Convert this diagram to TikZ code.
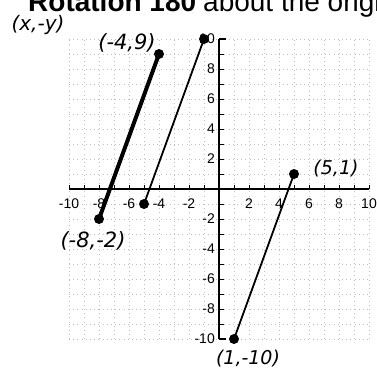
\documentclass[tikz,border=0pt]{standalone}
\usepackage{fontspec}
\setmainfont{Liberation Sans}
\newfontfamily\handfont{DejaVu Sans}
\tikzset{
  dotpt/.style={circle,fill=black,inner sep=0pt,minimum size=10pt},
  hand/.style={font=\handfont\itshape\fontsize{19}{19}\selectfont},
  ticklab/.style={font=\fontsize{14}{14}\selectfont,inner sep=1pt},
  gridln/.style={gray!50,line width=0.4pt,dash pattern=on 0.7pt off 3.5pt}
}
\begin{document}
\begin{tikzpicture}[x=1pt,y=-1pt]
\useasboundingbox (0,0) rectangle (377,373);
\clip (0,0) rectangle (377,373);
% heading (cut off at top)
\node[anchor=base west,inner sep=0pt,font=\bfseries\fontsize{28}{28}\selectfont] (title) at (28,11) {Rotation 180};
\node[anchor=base west,inner sep=0pt,font=\fontsize{28}{28}\selectfont] (title2) at (203,11) {about the origin};
\begin{scope}[shift={(219,189)},x=15pt,y=15pt]
  % grid
  \foreach \i in {-10,...,10}{
    \draw[gridln] (\i,-10) -- (\i,10);
    \draw[gridln] (-10,\i) -- (10,\i);
  }
  % axes
  \draw[line width=1.2pt] (-10,0) -- (10,0);
  \draw[line width=1.6pt] (0,-10) -- (0,10);
  \foreach \i in {-10,...,10}{
    \draw[line width=0.8pt] (\i,0) -- (\i,0.25);
    \draw[line width=0.8pt] (0,\i) -- (0.3,\i);
  }
  \draw[line width=1.2pt] (0,10) -- (0.45,10);
  \draw[line width=1.2pt] (0,-10) -- (0.45,-10);
  \foreach \i in {-10,-8,-6,-4,-2,2,4,6,8,10}{
    \node[ticklab] (xl\i) at (\i,-0.95) {\i};
  }
  \foreach \i in {-10,-8,-6,-4,-2,2,4,6,8,10}{
    \node[ticklab,anchor=east] (yl\i) at (-0.2,\i) {\i};
  }
  % points
  \node[dotpt] (A) at (-4,9) {};
  \node[dotpt] (B) at (-8,-2) {};
  \node[dotpt] (C) at (-1,10) {};
  \node[dotpt] (D) at (-5,-1) {};
  \node[dotpt] (E) at (5,1) {};
  \node[dotpt] (F) at (1,-10) {};
  \draw[line width=4pt] (A.center) -- (B.center);
  \draw[line width=1.8pt] (C.center) -- (D.center);
  \draw[line width=1.8pt] (E.center) -- (F.center);
\end{scope}
% handwritten labels
\node[hand,font=\handfont\itshape\fontsize{20}{20}\selectfont] (lxy) at (38,25) {(x,-y)};
\node[hand,font=\handfont\itshape\fontsize{21}{21}\selectfont] (lA) at (127,43) {(-4,9)};
\node[hand,font=\handfont\itshape\fontsize{21}{21}\selectfont] (lB) at (93,241) {(-8,-2)};
\node[hand] (lE) at (336,169) {(5,1)};
\node[hand] (lF) at (248,359) {(1,-10)};
\end{tikzpicture}
\end{document}
